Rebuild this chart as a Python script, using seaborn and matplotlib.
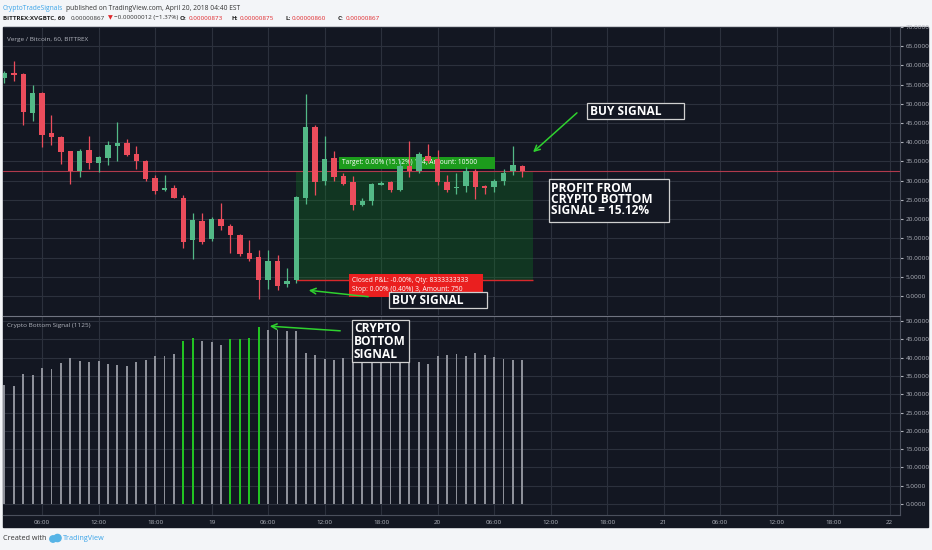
import numpy as np
import pandas as pd
import matplotlib
matplotlib.use('Agg')
import matplotlib.pyplot as plt
from matplotlib.patches import Rectangle, Circle
import seaborn as sns

# hourly candles, hour 0 = April 18 00:00
hours = list(range(2, 58))
opens = [56.7, 58.0, 57.8, 47.7, 52.8, 42.4, 41.4, 37.6, 32.4, 37.9,
         34.7, 36.0, 39.1, 39.8, 37.0, 35.1, 30.6, 27.5, 28.2, 25.6,
         14.5, 19.6, 14.8, 20.1, 18.3, 15.8, 11.1, 10.1, 4.1, 9.2,
         3.2, 4.1, 25.6, 44.1, 29.9, 35.8, 31.1, 29.6, 23.8, 24.6,
         29.0, 29.6, 27.5, 33.7, 32.6, 36.5, 35.7, 29.6, 28.0, 28.7,
         32.6, 28.5, 28.3, 29.9, 32.5, 33.7]
highs = [58.5, 61.1, 58.0, 55.0, 53.0, 47.2, 41.6, 37.8, 38.3, 41.7,
         36.5, 40.4, 45.2, 40.8, 39.1, 35.5, 31.5, 31.4, 28.8, 26.2,
         21.7, 21.7, 20.5, 24.3, 18.8, 16.0, 14.5, 11.9, 11.9, 10.6,
         7.2, 26.0, 52.5, 44.5, 41.7, 37.8, 32.0, 31.3, 25.5, 29.5,
         29.8, 30.0, 35.5, 40.4, 37.5, 39.5, 38.0, 31.5, 32.0, 33.5,
         33.0, 29.0, 30.5, 33.0, 39.1, 34.0]
lows = [55.5, 56.0, 44.5, 45.5, 38.9, 39.4, 34.4, 29.2, 31.0, 33.1,
        32.2, 34.2, 35.2, 36.3, 33.1, 30.0, 26.5, 27.2, 25.4, 12.6,
        9.5, 13.4, 14.3, 17.1, 11.1, 10.4, 9.2, -0.9, 1.8, 1.5,
        2.4, 3.5, 24.0, 26.2, 29.0, 30.0, 28.8, 22.5, 23.4, 23.8,
        28.8, 27.0, 27.2, 30.9, 32.0, 34.5, 29.0, 27.0, 26.5, 27.0,
        25.3, 26.5, 27.0, 29.0, 31.5, 30.9]
closes = [57.9, 57.6, 47.8, 52.8, 42.0, 41.3, 37.4, 32.4, 37.8, 34.5,
          36.1, 39.3, 39.8, 36.8, 35.1, 30.5, 27.3, 28.2, 25.6, 14.1,
          19.7, 14.1, 20.1, 18.1, 15.8, 10.9, 9.7, 4.1, 9.2, 2.7,
          3.9, 25.8, 44.1, 29.6, 35.7, 30.9, 29.2, 23.8, 24.7, 29.2,
          29.3, 27.5, 33.7, 32.6, 37.0, 35.2, 29.6, 27.7, 28.2, 32.6,
          28.3, 28.1, 30.0, 32.0, 34.2, 32.5]

# Crypto Bottom Signal indicator
signal = [32.5, 32.2, 35.5, 35.2, 37.1, 36.9, 38.5, 39.8, 39.2, 38.7,
          39.0, 38.4, 37.9, 37.7, 38.8, 39.5, 40.4, 40.5, 40.9, 44.5,
          45.5, 44.5, 44.2, 43.5, 45.1, 45.1, 45.5, 48.5, 47.5, 47.5,
          47.4, 47.2, 41.2, 40.8, 39.6, 39.3, 40.0, 40.3, 40.3, 40.3,
          40.3, 40.3, 40.3, 39.0, 38.8, 38.2, 40.4, 40.7, 41.0, 40.5,
          41.2, 40.7, 40.2, 39.6, 39.3, 39.4]
bottom_hours = [21, 22, 26, 27, 28, 29]
kind = ['bottom' if h in bottom_hours else 'normal' for h in hours]

price_ticks = list(range(0, 75, 5))
signal_ticks = list(range(0, 55, 5))
time_ticks = list(range(6, 97, 6))
time_labels = ['06:00', '12:00', '18:00', '19', '06:00', '12:00', '18:00', '20',
               '06:00', '12:00', '18:00', '21', '06:00', '12:00', '18:00', '22']

last_price = 32.5
trade_start, trade_end = 33.0, 58.1
entry_price, target_price = 4.1, 32.4

BG = '#131722'
GRID = '#2c313d'
TXT = '#b2b5be'
UP = '#53b987'
DOWN = '#eb4d5c'

sns.set_style('dark', rc={'axes.facecolor': BG})
plt.rcParams['font.family'] = ['Open Sans', 'DejaVu Sans']

W, H = 932, 550
fig = plt.figure(figsize=(W / 100, H / 100), dpi=100, facecolor='#f3f5f8')
fig.patches.append(Rectangle((3 / W, 1 - 527 / H), 925 / W, 500 / H,
                             transform=fig.transFigure, color=BG, zorder=-5))

ax1 = fig.add_axes([3 / W, 1 - 315 / H, 897 / W, 288 / H], zorder=2)
ax2 = fig.add_axes([3 / W, 1 - 515 / H, 897 / W, 199 / H], sharex=ax1, zorder=2)

# candles
df = pd.DataFrame({'hour': hours, 'open': opens, 'high': highs, 'low': lows, 'close': closes})
df['color'] = np.where(df['close'] >= df['open'], UP, DOWN)
body_lo = df[['open', 'close']].min(axis=1)
body_h = (df['close'] - df['open']).abs().clip(lower=0.4)
ax1.vlines(df['hour'], df['low'], df['high'], colors=df['color'], lw=0.9, zorder=3)
ax1.bar(df['hour'], body_h, bottom=body_lo, width=0.58, color=df['color'], lw=0, zorder=4)

# trade box
ax1.fill_between([trade_start, trade_end], entry_price, target_price,
                 color='#0f8a22', alpha=0.28, lw=0, zorder=1)
ax1.hlines(entry_price, trade_start, trade_end, color='#d8282c', lw=1.0, zorder=2)
ax1.axhline(last_price, color='#b03a4c', lw=0.8, zorder=2)
ax1.add_patch(Rectangle((37.5, 33.1), 16.6, 3.1, color='#1c9c1c', lw=0, zorder=2.5))
ax1.text(37.9, 34.65, 'Target: 0.00% (15.12%) 114, Amount: 10500', color='white',
         fontsize=4.8, va='center', ha='left', zorder=2.6)

# indicator
sns.barplot(x=hours, y=signal, hue=kind, palette={'bottom': '#22c322', 'normal': '#8d9099'},
            native_scale=True, width=0.2, dodge=False, legend=False, errorbar=None,
            saturation=1, linewidth=0, ax=ax2, zorder=3)

for ax, ticks, lims in [(ax1, price_ticks, (-4.95, 69.9)), (ax2, signal_ticks, (-3.0, 51.4))]:
    ax.set_facecolor(BG)
    ax.set_ylim(*lims)
    ax.set_yticks(ticks)
    ax.set_yticklabels(['{:.4f}'.format(t) for t in ticks])
    ax.yaxis.tick_right()
    ax.tick_params(axis='y', colors=TXT, labelsize=4.6, length=2, pad=2)
    ax.grid(True, color=GRID, lw=0.8)
    ax.set_axisbelow(True)
    ax.set_xlabel('')
    ax.set_ylabel('')
    for s in ['left', 'top', 'bottom']:
        ax.spines[s].set_visible(False)
    ax.spines['right'].set_visible(True)
    ax.spines['right'].set_color('#4a4f5c')
    ax.spines['right'].set_linewidth(0.8)

ax2.spines['top'].set_visible(True)
ax2.spines['top'].set_color('#707481')
ax2.spines['bottom'].set_visible(True)
ax2.spines['bottom'].set_color('#4a4f5c')
ax2.set_xlim(1.85, 97.1)
ax2.set_xticks(time_ticks)
ax2.set_xticklabels(time_labels)
ax2.tick_params(axis='x', colors=TXT, labelsize=4.5, length=0, pad=3.5)
ax1.tick_params(axis='x', labelbottom=False, length=0)

ax1.text(0.004, 0.955, 'Verge / Bitcoin, 60, BITTREX', transform=ax1.transAxes,
         color=TXT, fontsize=4.6, va='center')
ax2.text(0.005, 0.95, 'Crypto Bottom Signal (1125)', transform=ax2.transAxes,
         color=TXT, fontsize=4.6, va='center')

# overlay for annotations, in pixel units
ov = fig.add_axes([0, 0, 1, 1], zorder=10)
ov.set_xlim(0, W)
ov.set_ylim(H, 0)
ov.axis('off')
ov.patch.set_alpha(0)

ov.add_patch(Rectangle((349, 274), 134, 23, color='#ea1f1f', lw=0))
ov.text(352, 280.5, 'Closed P&L: -0.00%, Qty: 8333333333', color='white', fontsize=4.8, va='center')
ov.text(352, 289.5, 'Stop: 0.00% (0.40%) 3, Amount: 750', color='white', fontsize=4.8, va='center')

GREEN = '#2fd12f'
box_kw = dict(facecolor=BG, edgecolor='#d0d0d0', lw=0.9)
txt_kw = dict(color='white', fontsize=8.6, fontweight='bold', va='center', ha='left')

ov.add_patch(Rectangle((389, 292), 98, 16, **box_kw))
ov.text(392, 300.5, 'BUY SIGNAL', **txt_kw)
ov.annotate('', xy=(306, 290), xytext=(371, 297),
            arrowprops=dict(arrowstyle='->', color=GREEN, lw=1.1))

ov.add_patch(Rectangle((587, 103), 97, 16, **box_kw))
ov.text(590, 111.5, 'BUY SIGNAL', **txt_kw)
ov.annotate('', xy=(531, 154), xytext=(579, 111),
            arrowprops=dict(arrowstyle='->', color=GREEN, lw=1.1))

ov.add_patch(Rectangle((549, 179), 120, 43, **box_kw))
for i, line in enumerate(['PROFIT FROM', 'CRYPTO BOTTOM', 'SIGNAL = 15.12%']):
    ov.text(551, 188 + 11.5 * i, line, **txt_kw)

ov.add_patch(Rectangle((352, 320), 57, 42, **box_kw))
for i, line in enumerate(['CRYPTO', 'BOTTOM', 'SIGNAL']):
    ov.text(354, 328.5 + 12.8 * i, line, **txt_kw)
ov.annotate('', xy=(267, 326), xytext=(343, 331),
            arrowprops=dict(arrowstyle='->', color=GREEN, lw=1.1))

# header, placed piece by piece so the pieces never collide
RED = '#e0262a'
renderer = fig.canvas.get_renderer()


def text_row(pieces, y, size):
    end = 0
    for s, x, c, w in pieces:
        x = max(x, end + 1.5)
        t = ov.text(x, y, s, color=c, fontsize=size, fontweight=w, va='center')
        bb = t.get_window_extent(renderer=renderer)
        end = x + bb.width


text_row([('CryptoTradeSignals', 3, '#3ba4e8', 'normal'),
          ('published on TradingView.com, April 20, 2018 04:40 EST', 66, '#333333', 'normal')], 8, 4.8)
text_row([('BITTREX:XVGBTC, 60', 3, '#222222', 'bold'), ('0.00000867', 71, '#333333', 'normal'),
          ('\u25bc', 108, RED, 'normal'), ('\u22120.00000012 (\u22121.37%)', 114, '#333333', 'normal'),
          ('O:', 179, '#222222', 'bold'), ('0.00000873', 185, RED, 'normal'),
          ('H:', 232, '#222222', 'bold'), ('0.00000875', 238, RED, 'normal'),
          ('L:', 285, '#222222', 'bold'), ('0.00000860', 290, RED, 'normal'),
          ('C:', 338, '#222222', 'bold'), ('0.00000867', 345, RED, 'normal')], 18, 4.5)

# footer
ov.text(3, 539, 'Created with', color='#333333', fontsize=5.2, va='center')
ov.add_patch(Circle((53, 539), 3.2, color='#56b4e6'))
ov.add_patch(Circle((57.5, 538), 3.6, color='#56b4e6'))
ov.text(63, 539, 'TradingView', color='#3ba4e8', fontsize=5.2, va='center')

fig.savefig('out.png', dpi=100, facecolor=fig.get_facecolor())
